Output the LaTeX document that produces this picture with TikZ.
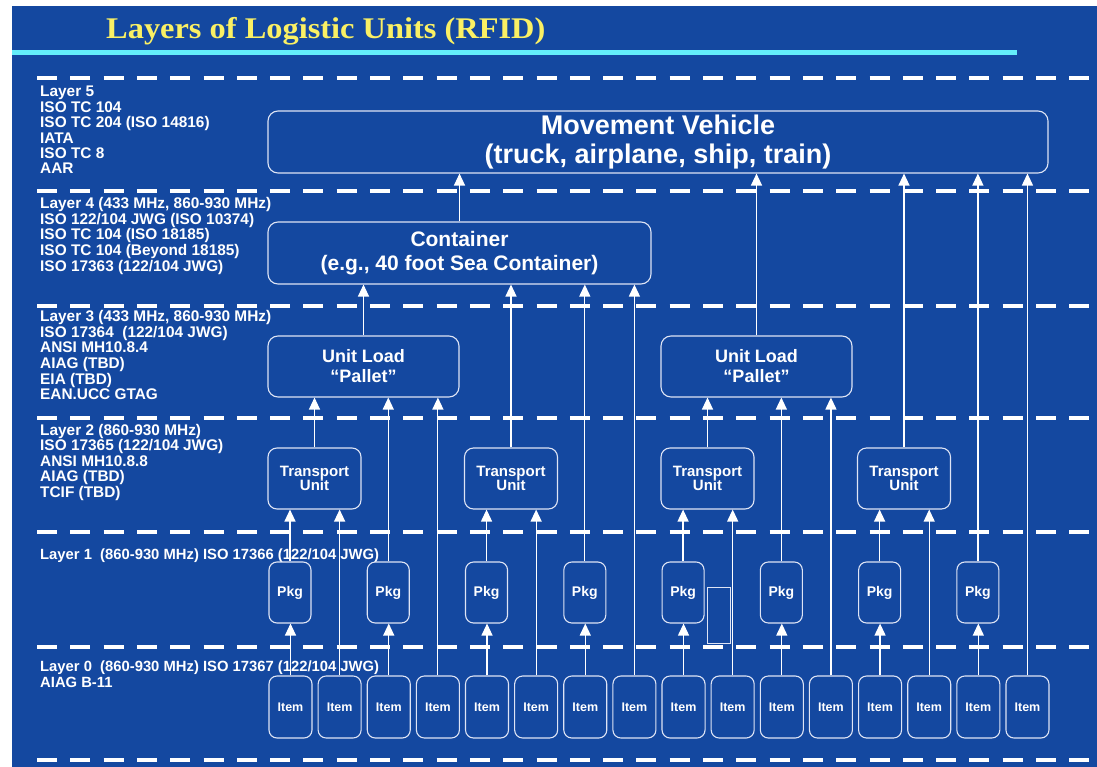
\documentclass[tikz,border=0pt]{standalone}
\usepackage{graphicx}
\usepackage{fontspec}
\setmainfont{Liberation Sans}
\newfontfamily\titlefont{Liberation Serif}
\usetikzlibrary{arrows.meta,calc}
\definecolor{bg}{RGB}{20,72,160}
\definecolor{ttl}{RGB}{250,240,100}
\definecolor{cyanline}{RGB}{100,238,250}
\definecolor{edge}{RGB}{222,228,245}
\begin{document}
\begin{tikzpicture}[x=1pt,y=-1pt,
  box/.style={draw=edge, line width=1.1pt, rounded corners=#1, fill=bg, text=white, inner sep=0pt, align=center},
  box/.default=9pt,
  lab/.style={anchor=base west, inner sep=0pt, text=white, font=\bfseries\fontsize{15.4}{15.3}\selectfont},
  arr/.style={draw=white, line width=1.2pt, -{Triangle[width=11pt,length=12pt]}},
  sep/.style={draw=white, line width=4.5pt, dash pattern=on 20pt off 13.3pt}]
\useasboundingbox (0,0) rectangle (1097,767);
\fill[white] (0,0) rectangle (1097,767);
\fill[bg] (12,6) rectangle (1097,767);
% title
\node[anchor=base west, inner sep=0pt, text=ttl, font=\titlefont\bfseries\fontsize{30}{30}\selectfont] (title) at (106,39) {\scalebox{1.08}[1]{Layers of Logistic Units (RFID)}};
\draw[cyanline, line width=5pt] (12,52.5) -- (1017,52.5);
% layer separators
\foreach \yy in {78,191,306,418,532,647,760} \draw[sep] (37,\yy) -- (1097,\yy);
% layer labels
\node[lab] (l5) at (40,96.7) {\begin{tabular}[t]{@{}l@{}}Layer 5\\ISO TC 104\\ISO TC 204 (ISO 14816)\\IATA\\ISO TC 8\\AAR\end{tabular}};
\node[lab] (l4) at (40,208.3) {\begin{tabular}[t]{@{}l@{}}Layer 4 (433 MHz, 860-930 MHz)\\ISO 122/104 JWG (ISO 10374)\\ISO TC 104 (ISO 18185)\\ISO TC 104 (Beyond 18185)\\ISO 17363 (122/104 JWG)\end{tabular}};
\node[lab] (l3) at (40,321.7) {\begin{tabular}[t]{@{}l@{}}Layer 3 (433 MHz, 860-930 MHz)\\ISO 17364~ (122/104 JWG)\\ANSI MH10.8.4\\AIAG (TBD)\\EIA (TBD)\\EAN.UCC GTAG\end{tabular}};
\node[lab] (l2) at (40,435) {\begin{tabular}[t]{@{}l@{}}Layer 2 (860-930 MHz)\\ISO 17365 (122/104 JWG)\\ANSI MH10.8.8\\AIAG (TBD)\\TCIF (TBD)\end{tabular}};
\node[lab, font=\bfseries\fontsize{14.8}{15.3}\selectfont] (l1) at (40,559.3) {Layer 1~ (860-930 MHz) ISO 17366 (122/104 JWG)};
\node[lab, font=\bfseries\fontsize{14.8}{15.3}\selectfont] (l0) at (40,671.7) {\begin{tabular}[t]{@{}l@{}}Layer 0~ (860-930 MHz) ISO 17367 (122/104 JWG)\\AIAG B-11\end{tabular}};
% boxes
\node[box=10pt, minimum width=780pt, minimum height=62pt, font=\bfseries\fontsize{27}{29}\selectfont] (mv) at (658,142) {Movement Vehicle\\(truck, airplane, ship, train)};
\node[box=10pt, minimum width=383pt, minimum height=62pt, font=\bfseries\fontsize{21}{24}\selectfont] (ct) at (459.5,253) {Container\\(e.g., 40 foot Sea Container)};
\node[box=10pt, minimum width=191pt, minimum height=61pt, font=\bfseries\fontsize{18}{20}\selectfont] (ul1) at (363.5,366.5) {Unit Load\\“Pallet”};
\node[box=10pt, minimum width=191pt, minimum height=61pt, font=\bfseries\fontsize{18}{20}\selectfont] (ul2) at (756.5,366.5) {Unit Load\\“Pallet”};
\foreach \k in {0,...,3}
  \node[box=9pt, minimum width=93pt, minimum height=61pt, font=\bfseries\fontsize{15}{14.5}\selectfont] (tu\k) at ({314.5+196.5*\k},478.5) {Transport\\Unit};
\foreach \k in {0,...,7}
  \node[box=8pt, minimum width=42pt, minimum height=61pt, font=\bfseries\fontsize{14}{14}\selectfont] (pk\k) at ({290+98.27*\k},592.5) {Pkg};
\foreach \i in {0,...,15}
  \node[box=8pt, minimum width=43pt, minimum height=62pt, font=\bfseries\fontsize{12.5}{12.5}\selectfont] (it\i) at ({290.5+49.13*\i},707) {Item};
\node[draw=edge, line width=1pt, minimum width=23pt, minimum height=56pt, inner sep=0pt] (xr) at (718.5,615) {};
% item -> pkg
\foreach \k in {0,...,7} {
  \pgfmathtruncatemacro{\src}{2*\k}
  \draw[arr] (it\src.north) -- (it\src.north |- pk\k.south);
}
% pkg -> transport unit, item -> transport unit
\foreach \k in {0,...,3} {
  \pgfmathtruncatemacro{\sp}{2*\k}
  \pgfmathtruncatemacro{\si}{4*\k+1}
  \draw[arr] (pk\sp.north) -- (pk\sp.north |- tu\k.south);
  \draw[arr] (it\si.north) -- (it\si.north |- tu\k.south);
}
% to unit loads
\draw[arr] (tu0.north) -- (tu0.north |- ul1.south);
\draw[arr] (pk1.north) -- (pk1.north |- ul1.south);
\draw[arr] (it3.north) -- (it3.north |- ul1.south);
\draw[arr] (tu2.north) -- (tu2.north |- ul2.south);
\draw[arr] (pk5.north) -- (pk5.north |- ul2.south);
\draw[arr] (it11.north) -- (it11.north |- ul2.south);
% to container
\draw[arr] (ul1.north) -- (ul1.north |- ct.south);
\draw[arr] (tu1.north) -- (tu1.north |- ct.south);
\draw[arr] (pk3.north) -- (pk3.north |- ct.south);
\draw[arr] (it7.north) -- (it7.north |- ct.south);
% to movement vehicle
\draw[arr] (ct.north) -- (ct.north |- mv.south);
\draw[arr] (ul2.north) -- (ul2.north |- mv.south);
\draw[arr] (tu3.north) -- (tu3.north |- mv.south);
\draw[arr] (pk7.north) -- (pk7.north |- mv.south);
\draw[arr] (it15.north) -- (it15.north |- mv.south);
\end{tikzpicture}
\end{document}
